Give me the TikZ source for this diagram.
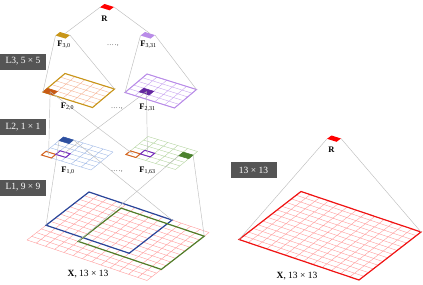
\documentclass[tikz,border=0pt]{standalone}
\usepackage{fontspec}
\setmainfont{Liberation Serif}
\usetikzlibrary{calc}
\definecolor{linkgray}{RGB}{190,190,190}
\definecolor{boxgray}{RGB}{85,85,85}
\definecolor{xpink}{RGB}{255,155,155}
\definecolor{xred}{RGB}{240,20,20}
\definecolor{gold}{RGB}{200,150,25}
\definecolor{salmon}{RGB}{245,180,150}
\definecolor{dorange}{RGB}{200,90,20}
\definecolor{lav}{RGB}{185,140,232}
\definecolor{lavgrid}{RGB}{200,165,240}
\definecolor{dpurple}{RGB}{100,40,160}
\definecolor{lblue}{RGB}{160,185,230}
\definecolor{dblue}{RGB}{45,80,160}
\definecolor{lgreen}{RGB}{180,212,160}
\definecolor{dgreen}{RGB}{75,130,45}
\definecolor{corange}{RGB}{215,100,30}
\definecolor{cpurple}{RGB}{120,45,190}
\definecolor{rblue}{RGB}{40,70,155}
\definecolor{rgreen}{RGB}{80,125,40}
\tikzset{
  inplane/.style n args={3}{shift={(#1)},x={#2},y={#3}},
  link/.style={draw=linkgray,line width=0.45pt},
  gridln/.style={line width=0.4pt},
  lbox/.style={fill=boxgray,text=white,minimum width=46pt,minimum height=16pt,inner sep=0pt,font=\fontsize{9.5}{10}\selectfont},
  flab/.style={inner sep=0pt,font=\fontsize{8.5}{9}\selectfont},
  xlab/.style={inner sep=0pt,font=\fontsize{9.5}{10}\selectfont},
  dotlab/.style={inner sep=0pt,font=\fontsize{6}{6}\selectfont},
}
\newcommand\gridlines[2]{\foreach \i in {0,...,#1}{\draw[gridln,#2] (\i,0)--(\i,#1) (0,\i)--(#1,\i);}}
\newcommand\cellpath[2]{(#1,#2)--++(1,0)--++(0,1)--++(-1,0)--cycle}
\begin{document}
\begin{tikzpicture}[x=1pt,y=-1pt]
\useasboundingbox (0,0) rectangle (423,284);

% ---------- coordinates of all planes ----------
% R quads and F3 quads
\begin{scope}[inplane={104.5,4}{(9.5pt,-3pt)}{(-4.5pt,-3.3pt)}]
  \fill[red] \cellpath{0}{0};
  \coordinate (R1l) at (0,1); \coordinate (R1r) at (1,0);
\end{scope}
\begin{scope}[inplane={331.5,135.5}{(9.5pt,-3pt)}{(-4.5pt,-3.3pt)}]
  \fill[red] \cellpath{0}{0};
  \coordinate (R2l) at (0,1); \coordinate (R2r) at (1,0);
\end{scope}
\begin{scope}[inplane={60,32}{(10pt,-3.1pt)}{(-4.5pt,-3.5pt)}]
  \fill[gold] \cellpath{0}{0};
  \coordinate (F30t) at (0.5,0); \coordinate (F30l) at (0,1); \coordinate (F30r) at (1,0);
\end{scope}
\begin{scope}[inplane={145,32}{(10pt,-3.1pt)}{(-4.5pt,-3.5pt)}]
  \fill[lav] \cellpath{0}{0};
  \coordinate (F331t) at (0.5,0); \coordinate (F331l) at (0,1); \coordinate (F331r) at (1,0);
\end{scope}

% F2 planes
\begin{scope}[inplane={65,73.5}{(9.9pt,-3.1pt)}{(-4.4pt,-3.7pt)}]
  \gridlines{5}{salmon}
  \draw[gold,line width=1.1pt] (0,0)--(5,0)--(5,5)--(0,5)--cycle;
  \filldraw[dorange,line width=0.6pt] \cellpath{0}{4};
  \coordinate (F20l) at (0,5); \coordinate (F20r) at (5,0);
  \coordinate (F20c) at (0.5,4.5);
\end{scope}
\begin{scope}[inplane={147,74}{(9.9pt,-3.1pt)}{(-4.4pt,-3.7pt)}]
  \gridlines{5}{lavgrid}
  \draw[lav,line width=1pt] (0,0)--(5,0)--(5,5)--(0,5)--cycle;
  \filldraw[dpurple,line width=0.6pt] \cellpath{1}{3};
  \coordinate (F231l) at (0,5); \coordinate (F231r) at (5,0);
  \coordinate (F231c) at (1.5,3.5);
\end{scope}

% F1 planes
\begin{scope}[inplane={63.5,137}{(9.9pt,-3pt)}{(-4.4pt,-3.6pt)}]
  \gridlines{5}{lblue}
  \filldraw[dblue,line width=0.5pt] \cellpath{0}{0};
  \draw[corange,line width=1pt] \cellpath{0}{4};
  \draw[cpurple,line width=1pt] \cellpath{1}{3};
  \coordinate (F10o) at (0.5,4.5); \coordinate (F10p) at (1.5,3.5);
  \coordinate (F10bl) at (0,1); \coordinate (F10br) at (1,0);
\end{scope}
\begin{scope}[inplane={148,136.5}{(9.9pt,-3pt)}{(-4.4pt,-3.6pt)}]
  \gridlines{5}{lgreen}
  \filldraw[dgreen,line width=0.5pt] \cellpath{4}{1};
  \draw[corange,line width=1pt] \cellpath{0}{4};
  \draw[cpurple,line width=1pt] \cellpath{1}{3};
  \coordinate (F163o) at (0.5,4.5); \coordinate (F163p) at (1.5,3.5);
  \coordinate (F163gl) at (4,2); \coordinate (F163gr) at (5,1);
\end{scope}

% X planes
\begin{scope}[inplane={89,192}{(9.231pt,-3.115pt)}{(-4.769pt,-3.692pt)}]
  \gridlines{13}{xpink}
  \draw[rblue,line width=1.2pt] (0,0)--(9,0)--(9,9)--(0,9)--cycle;
  \draw[rgreen,line width=1.2pt] (4,1)--(13,1)--(13,10)--(4,10)--cycle;
  \coordinate (XLbl) at (0,9); \coordinate (XLbr) at (9,0);
  \coordinate (XLgl) at (4,10); \coordinate (XLgr) at (13,1);
\end{scope}
\begin{scope}[inplane={301,191.5}{(9.231pt,-3.115pt)}{(-4.769pt,-3.692pt)}]
  \gridlines{13}{xpink}
  \draw[xred,line width=1.2pt] (0,0)--(13,0)--(13,13)--(0,13)--cycle;
  \coordinate (XRl) at (0,13); \coordinate (XRr) at (13,0);
\end{scope}

% ---------- connectors ----------
\draw[link] (R1l) -- (F30t);
\draw[link] (R1r) -- (F331t);
\draw[link] (F30l) -- (F20l);
\draw[link] (F30r) -- (F20r);
\draw[link] (F331l) -- (F231l);
\draw[link] (F331r) -- (F231r);
\draw[link] (F20c) -- (F10o);
\draw[link] (F20c) -- (F163o);
\draw[link] (F231c) -- (F10p);
\draw[link] (F231c) -- (F163p);
\draw[link] (XLbl) -- (F10bl);
\draw[link] (XLbr) -- (F10br);
\draw[link] (XLgl) -- (F163gl);
\draw[link] (XLgr) -- (F163gr);
\draw[link] (R2l) -- (XRl);
\draw[link] (R2r) -- (XRr);

% ---------- labels ----------
\node[flab] (tR1) at (104.5,18.5) {\textbf{R}};
\node[flab] (tR2) at (331.5,150) {\textbf{R}};
\node[flab] (tF30) at (64,44.5) {\textbf{F}\textsubscript{3,0}};
\node[flab] (tF331) at (148.5,44.5) {\textbf{F}\textsubscript{3,31}};
\node[flab] (tF20) at (67.5,107) {\textbf{F}\textsubscript{2,0}};
\node[flab] (tF231) at (147.5,108) {\textbf{F}\textsubscript{2,31}};
\node[flab] (tF10) at (68,171) {\textbf{F}\textsubscript{1,0}};
\node[flab] (tF163) at (147.5,171) {\textbf{F}\textsubscript{1,63}};
\node[dotlab] (d3) at (113,46) {.\,.\,.\,.\,,};
\node[dotlab] (d2) at (117,109) {.\,.\,.\,.\,,};
\node[dotlab] (d1) at (117,172) {.\,.\,.\,.\,,};
\node[lbox] (bL3) at (23,61.5) {L3, 5 × 5};
\node[lbox] (bL2) at (23,127) {L2, 1 × 1};
\node[lbox] (bL1) at (23,187.5) {L1, 9 × 9};
\node[lbox] (bR) at (253.5,170) {13 × 13};
\node[xlab] (tXL) at (88,274.5) {\textbf{X}, 13 × 13};
\node[xlab] (tXR) at (297,276) {\textbf{X}, 13 × 13};
\end{tikzpicture}
\end{document}
